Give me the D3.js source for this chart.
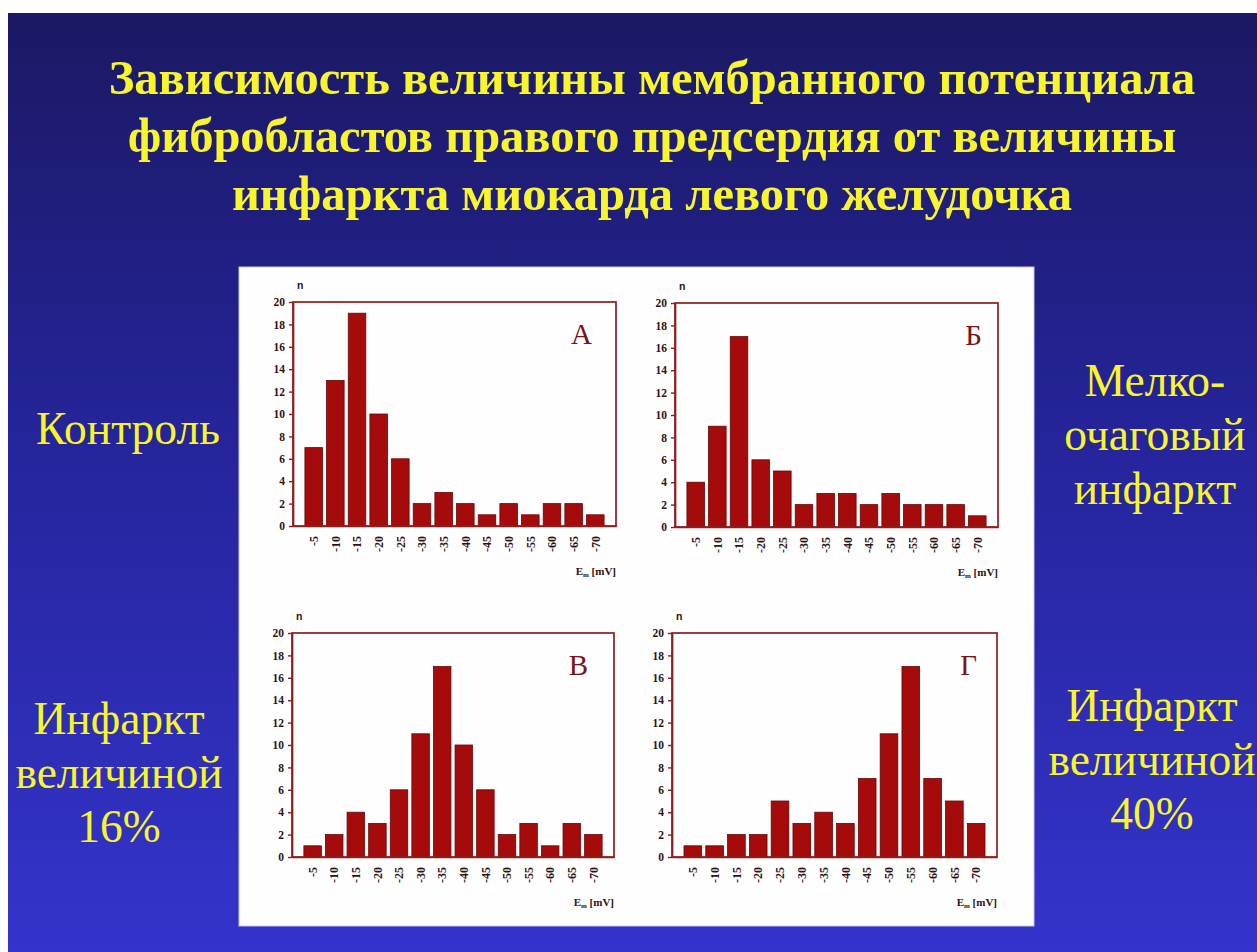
<!DOCTYPE html>
<html>
<head>
<meta charset="utf-8">
<script src="https://cdn.jsdelivr.net/npm/d3@7"></script>
<style>
  html, body { margin: 0; padding: 0; background: #ffffff; }
  svg { display: block; }
  .serif { font-family: "Liberation Serif", "Times New Roman", Times, serif; }
  .sans { font-family: "Liberation Sans", Arial, sans-serif; }
</style>
</head>
<body>
<svg id="slide" width="1257" height="952"></svg>
<script>
// Membrane potential bins (mV) shared by all four histograms
const categories = ["-5", "-10", "-15", "-20", "-25", "-30", "-35", "-40", "-45", "-50", "-55", "-60", "-65", "-70"];

// Number of fibroblasts per bin
const countsControl = [7, 13, 19, 10, 6, 2, 3, 2, 1, 2, 1, 2, 2, 1];   // А
const countsSmall   = [4, 9, 17, 6, 5, 2, 3, 3, 2, 3, 2, 2, 2, 1];     // Б
const counts16      = [1, 2, 4, 3, 6, 11, 17, 10, 6, 2, 3, 1, 3, 2];   // В
const counts40      = [1, 1, 2, 2, 5, 3, 4, 3, 7, 11, 17, 7, 5, 3];    // Г

const yTickValues = [0, 2, 4, 6, 8, 10, 12, 14, 16, 18, 20];
const panelLetters = ["А", "Б", "В", "Г"];

const titleLines = [
  "Зависимость величины мембранного потенциала",
  "фибробластов правого предсердия от величины",
  "инфаркта миокарда левого желудочка"
];

const svg = d3.select("#slide");

// Background gradient
const defs = svg.append("defs");
const grad = defs.append("linearGradient")
  .attr("id", "bg").attr("x1", 0).attr("y1", 0).attr("x2", 0).attr("y2", 1);
grad.append("stop").attr("offset", "0%").attr("stop-color", "#1b1963");
grad.append("stop").attr("offset", "45%").attr("stop-color", "#25249a");
grad.append("stop").attr("offset", "100%").attr("stop-color", "#3434cc");

svg.append("rect").attr("x", 0).attr("y", 0).attr("width", 1257).attr("height", 952).attr("fill", "#ffffff");
svg.append("rect").attr("x", 8).attr("y", 13).attr("width", 1249).attr("height", 939).attr("fill", "url(#bg)");

const yellow = "#f8f52c";

// Title
svg.append("g").selectAll("text").data(titleLines).join("text")
  .attr("class", "serif")
  .attr("x", 652)
  .attr("y", (d, i) => 94 + i * 58)
  .attr("text-anchor", "middle")
  .style("font-weight", "bold")
  .style("font-size", "48.5px")
  .attr("fill", yellow)
  .text(d => d);

// Side captions
const captions = [
  { x: 128, y: 444, lines: ["Контроль"] },
  { x: 1155, y: 396, lines: ["Мелко-", "очаговый", "инфаркт"] },
  { x: 119, y: 734, lines: ["Инфаркт", "величиной", "16%"] },
  { x: 1152, y: 721, lines: ["Инфаркт", "величиной", "40%"] }
];
captions.forEach(c => {
  svg.append("g").selectAll("text").data(c.lines).join("text")
    .attr("class", "serif")
    .attr("x", c.x)
    .attr("y", (d, i) => c.y + i * 54)
    .attr("text-anchor", "middle")
    .style("font-size", "45.5px")
    .attr("fill", yellow)
    .text(d => d);
});

// White figure card
svg.append("rect")
  .attr("x", 239).attr("y", 267).attr("width", 795).attr("height", 659)
  .attr("fill", "#fefefe").attr("stroke", "#c8c8d8").attr("stroke-width", 1);

const frameColor = "#8e1d1d";
const barFill = "#a50b0b";
const barStroke = "#6a0505";
const labelColor = "#2e1212";

const panels = [
  { values: countsControl, left: 293, top: 302, right: 616, bottom: 526, letterDx: 24 },
  { values: countsSmall,   left: 675, top: 303, right: 998, bottom: 527, letterDx: 16 },
  { values: counts16,      left: 292, top: 633, right: 614, bottom: 857, letterDx: 26 },
  { values: counts40,      left: 672, top: 633, right: 997, bottom: 857, letterDx: 20 }
];

panels.forEach((p, idx) => {
  const g = svg.append("g");

  const x = d3.scaleBand().domain(categories).range([p.left, p.right])
    .paddingInner(0.19).paddingOuter(0.55);
  const y = d3.scaleLinear().domain([0, 20]).range([p.bottom, p.top]);

  // Bars
  g.selectAll("rect.bar").data(p.values).join("rect")
    .attr("class", "bar")
    .attr("x", (d, i) => x(categories[i]))
    .attr("y", d => y(d))
    .attr("width", x.bandwidth())
    .attr("height", d => y(0) - y(d))
    .attr("fill", barFill)
    .attr("stroke", barStroke)
    .attr("stroke-width", 0.8);

  // Plot frame
  g.append("rect")
    .attr("x", p.left).attr("y", p.top)
    .attr("width", p.right - p.left).attr("height", p.bottom - p.top)
    .attr("fill", "none").attr("stroke", frameColor).attr("stroke-width", 1.7);

  // Y axis
  const ya = g.append("g")
    .attr("transform", `translate(${p.left},0)`)
    .call(d3.axisLeft(y).tickValues(yTickValues).tickSize(4).tickSizeOuter(0).tickPadding(4));
  ya.attr("font-family", null).attr("font-size", null);
  ya.select(".domain").attr("stroke", frameColor).attr("stroke-width", 1.7);
  ya.selectAll(".tick line").attr("stroke", frameColor).attr("stroke-width", 1.4);
  ya.selectAll(".tick text")
    .attr("class", "serif")
    .style("font-weight", "bold").style("font-size", "11.5px")
    .attr("fill", labelColor);

  // X axis with rotated labels
  const xa = g.append("g")
    .attr("transform", `translate(0,${p.bottom})`)
    .call(d3.axisBottom(x).tickSize(0).tickPadding(0));
  xa.attr("font-family", null).attr("font-size", null);
  xa.select(".domain").attr("stroke", frameColor).attr("stroke-width", 1.7);
  xa.selectAll(".tick text")
    .attr("class", "serif")
    .style("font-weight", "bold").style("font-size", "12px")
    .attr("fill", labelColor)
    .attr("text-anchor", "end")
    .attr("dy", "0.35em")
    .attr("transform", "translate(0,10) rotate(-90)")
    .attr("x", 0).attr("y", 0);

  // Axis captions
  g.append("text")
    .attr("class", "sans")
    .attr("x", p.left + 4).attr("y", p.top - 13)
    .style("font-weight", "bold")
    .style("font-size", "10.5px").attr("fill", labelColor)
    .text("n");

  const em = g.append("text")
    .attr("class", "serif")
    .attr("x", p.right).attr("y", p.bottom + 49)
    .attr("text-anchor", "end")
    .style("font-weight", "bold")
    .style("font-size", "11px").attr("fill", labelColor);
  em.append("tspan").text("E");
  em.append("tspan").style("font-size", "7px").attr("dy", 2).text("m");
  em.append("tspan").attr("dy", -2).text(" [mV]");

  // Panel letter
  g.append("text")
    .attr("class", "serif")
    .attr("x", p.right - p.letterDx).attr("y", p.top + 42)
    .attr("text-anchor", "end")
    .style("font-size", "29px").attr("fill", "#7a1414")
    .text(panelLetters[idx]);
});
</script>
</body>
</html>
